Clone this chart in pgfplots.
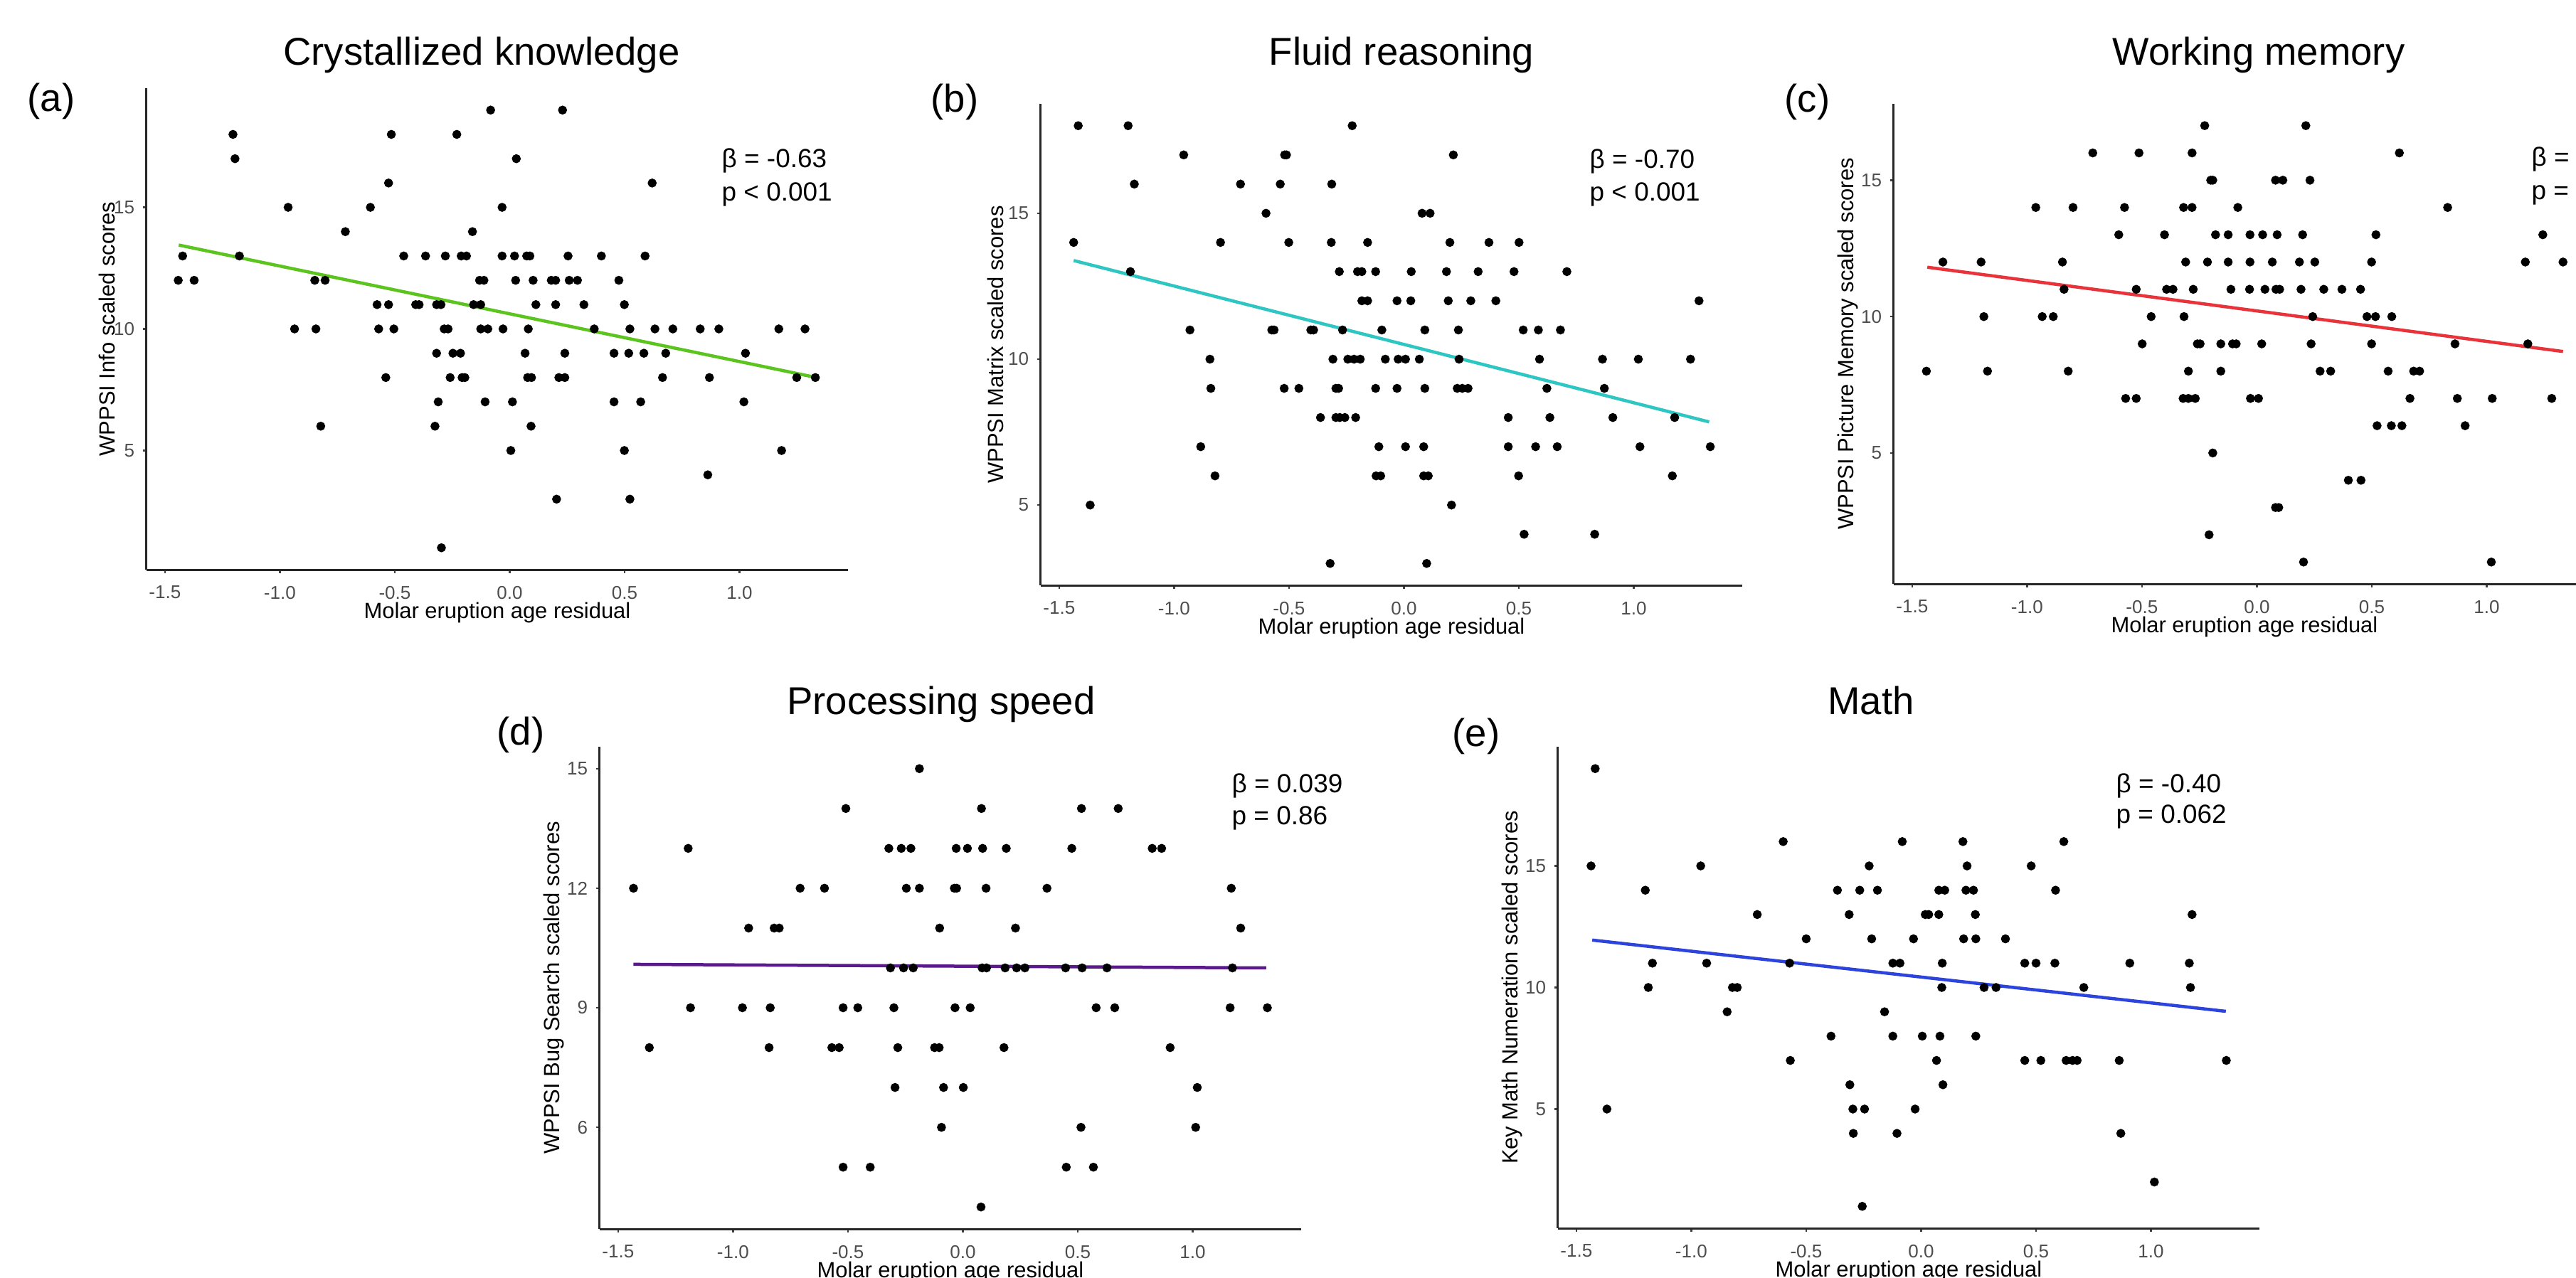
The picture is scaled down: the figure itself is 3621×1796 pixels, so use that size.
\documentclass[border=0pt]{standalone}
\usepackage{pgfplots}
\pgfplotsset{compat=1.18}
\usepackage{fontspec}
\setmainfont{Liberation Sans}

\definecolor{ticktext}{HTML}{4D4D4D}
\definecolor{fitA}{HTML}{5CC41E}
\definecolor{fitB}{HTML}{2EC6C2}
\definecolor{fitC}{HTML}{E8333B}
\definecolor{fitD}{HTML}{5A1A8C}
\definecolor{fitE}{HTML}{2D44DC}

\pgfplotsset{
  panel/.style={
    scale only axis, width=98.6mm,
    xmin=-1.58, xmax=1.472,
    axis lines=left, axis line style={-, black!85, line width=0.3mm},
    tick align=outside, major tick length=0.45mm,
    tick style={black!75, line width=0.25mm},
    xtick={-1.5,-1,-0.5,0,0.5,1}, xticklabels={-1.5,-1.0,-0.5,0.0,0.5,1.0},
    ticklabel style={font=\fontsize{7.4}{8.5}\selectfont, text=ticktext},
    xticklabel style={yshift=-0.6mm},
    xlabel={Molar eruption age residual},
    label style={font=\fontsize{8.8}{10}\selectfont},
    xlabel style={at={([yshift=-6.1mm]axis description cs:0.5,0)}, anchor=center},
    ylabel style={at={([xshift=-6.4mm]axis description cs:0,0.5)}, anchor=center},
  },
  pts/.style={only marks, mark=*, mark size=0.56mm, black},
  fit/.style={line width=0.45mm, no marks},
}

\newcommand{\ttl}{\fontsize{15.5}{18}\selectfont}
\newcommand{\stat}{\fontsize{10.5}{12}\selectfont}

\begin{document}
\begin{tikzpicture}[x=0.1mm, y=0.1mm]
\useasboundingbox (0,0) rectangle (3621,1796);
\clip (0,0) rectangle (3621,1796);

% (a) Crystallized knowledge
\begin{axis}[panel, at={(20.6mm,99.5mm)}, anchor=south west, height=67.7mm,
  ymin=0.1, ymax=19.9, ytick={5,10,15}, yticklabels={5,10,15},
  ylabel={WPPSI Info scaled scores},
  ylabel style={at={([xshift=-5.6mm]axis description cs:0,0.5)}}]
\addplot[pts] coordinates {
(-0.083,19) (0.230,19)
(-1.204,18) (-0.515,18) (-0.230,18)
(-1.195,17) (0.029,17)
(-0.527,16) (0.620,16)
(-0.964,15) (-0.606,15) (-0.033,15)
(-0.715,14) (-0.162,14)
(-1.423,13) (-1.176,13) (-0.461,13) (-0.366,13) (-0.280,13) (-0.211,13) (-0.188,13) (-0.033,13) (0.021,13) (0.074,13) (0.088,13) (0.254,13) (0.399,13) (0.589,13)
(-1.442,12) (-1.373,12) (-0.848,12) (-0.803,12) (-0.131,12) (-0.112,12) (0.026,12) (0.102,12) (0.181,12) (0.200,12) (0.259,12) (0.295,12) (0.475,12)
(-0.577,11) (-0.527,11) (-0.409,11) (-0.394,11) (-0.318,11) (-0.299,11) (-0.157,11) (-0.126,11) (0.114,11) (0.200,11) (0.323,11) (0.499,11)
(-0.936,10) (-0.843,10) (-0.570,10) (-0.504,10) (-0.285,10) (-0.268,10) (-0.126,10) (-0.095,10) (-0.029,10) (0.081,10) (0.368,10) (0.523,10) (0.632,10) (0.710,10) (0.829,10) (0.910,10) (1.171,10) (1.285,10)
(-0.318,9) (-0.247,9) (-0.214,9) (0.067,9) (0.240,9) (0.454,9) (0.518,9) (0.584,9) (0.679,9) (1.026,9)
(-0.539,8) (-0.259,8) (-0.207,8) (-0.195,8) (0.078,8) (0.095,8) (0.214,8) (0.240,8) (0.665,8) (0.869,8) (1.249,8) (1.330,8)
(-0.311,7) (-0.107,7) (0.012,7) (0.454,7) (0.570,7) (1.019,7)
(-0.822,6) (-0.325,6) (0.093,6)
(0.005,5) (0.499,5) (1.183,5)
(0.862,4)
(0.204,3) (0.523,3)
(-0.297,1)
};
\addplot[fit, fitA] coordinates {(-1.44,13.45) (1.33,8.01)};
\end{axis}

% (b) Fluid reasoning
\begin{axis}[panel, at={(146.3mm,97.3mm)}, anchor=south west, height=67.7mm,
  ymin=2.25, ymax=18.75, ytick={5,10,15}, yticklabels={5,10,15},
  ylabel={WPPSI Matrix scaled scores}]
\addplot[pts] coordinates {
(-1.417,18) (-1.200,18) (-0.225,18)
(-0.958,17) (-0.519,17) (-0.511,17) (0.215,17)
(-1.173,16) (-0.711,16) (-0.538,16) (-0.314,16)
(-0.600,15) (0.079,15) (0.114,15)
(-1.437,14) (-0.798,14) (-0.501,14) (-0.316,14) (-0.158,14) (0.200,14) (0.370,14) (0.501,14)
(-1.190,13) (-0.281,13) (-0.202,13) (-0.183,13) (-0.123,13) (0.032,13) (0.185,13) (0.323,13) (0.479,13) (0.709,13)
(-0.183,12) (-0.158,12) (-0.030,12) (0.030,12) (0.193,12) (0.291,12) (0.400,12) (1.284,12)
(-0.931,11) (-0.575,11) (-0.565,11) (-0.405,11) (-0.393,11) (-0.267,11) (-0.096,11) (0.091,11) (0.237,11) (0.519,11) (0.585,11) (0.681,11)
(-0.844,10) (-0.309,10) (-0.244,10) (-0.217,10) (-0.190,10) (-0.081,10) (-0.025,10) (0.007,10) (0.067,10) (0.240,10) (0.590,10) (0.864,10) (1.020,10) (1.247,10)
(-0.840,9) (-0.521,9) (-0.457,9) (-0.296,9) (-0.284,9) (-0.123,9) (-0.030,9) (0.091,9) (0.232,9) (0.254,9) (0.279,9) (0.622,9) (0.872,9)
(-0.363,8) (-0.296,8) (-0.279,8) (-0.257,8) (-0.210,8) (0.454,8) (0.635,8) (0.909,8) (1.178,8)
(-0.884,7) (-0.109,7) (0.007,7) (0.086,7) (0.454,7) (0.573,7) (0.667,7) (1.027,7) (1.333,7)
(-0.822,6) (-0.121,6) (-0.101,6) (0.086,6) (0.106,6) (0.499,6) (1.168,6)
(-1.365,5) (0.207,5)
(0.523,4) (0.830,4)
(-0.321,3) (0.099,3)
};
\addplot[fit, fitB] coordinates {(-1.437,13.38) (1.328,7.85)};
\end{axis}

% (c) Working memory
\begin{axis}[panel, at={(266.2mm,97.5mm)}, anchor=south west, height=67.5mm,
  ymin=0.2, ymax=17.8, ytick={5,10,15}, yticklabels={5,10,15},
  ylabel={WPPSI Picture Memory scaled scores}]
\addplot[pts] coordinates {
(-0.227,17) (0.213,17)
(-0.714,16) (-0.513,16) (-0.282,16) (0.620,16)
(-0.201,15) (-0.192,15) (0.081,15) (0.113,15) (0.231,15)
(-0.962,14) (-0.800,14) (-0.576,14) (-0.319,14) (-0.282,14) (-0.083,14) (0.830,14)
(-0.601,13) (-0.402,13) (-0.180,13) (-0.125,13) (-0.030,13) (0.025,13) (0.088,13) (0.199,13) (0.518,13) (1.244,13)
(-1.366,12) (-1.200,12) (-0.846,12) (-0.310,12) (-0.215,12) (-0.125,12) (-0.030,12) (0.067,12) (0.185,12) (0.252,12) (0.499,12) (1.168,12) (1.332,12)
(-0.839,11) (-0.525,11) (-0.393,11) (-0.365,11) (-0.277,11) (-0.113,11) (-0.032,11) (0.035,11) (0.083,11) (0.099,11) (0.192,11) (0.291,11) (0.370,11) (0.451,11)
(-1.188,10) (-0.934,10) (-0.886,10) (-0.460,10) (-0.317,10) (0.243,10) (0.479,10) (0.516,10) (0.587,10)
(-0.499,9) (-0.259,9) (-0.247,9) (-0.157,9) (-0.106,9) (-0.090,9) (0.021,9) (0.236,9) (0.499,9) (0.862,9) (1.179,9)
(-1.438,8) (-1.172,8) (-0.821,8) (-0.298,8) (-0.157,8) (0.275,8) (0.321,8) (0.571,8) (0.682,8) (0.708,8)
(-0.571,7) (-0.525,7) (-0.321,7) (-0.298,7) (-0.268,7) (-0.028,7) (0.007,7) (0.666,7) (0.872,7) (1.024,7) (1.283,7)
(0.523,6) (0.585,6) (0.631,6) (0.906,6)
(-0.192,5)
(0.398,4) (0.453,4)
(0.081,3) (0.095,3)
(-0.208,2)
(0.203,1) (1.020,1)
};
\addplot[fit, fitC] coordinates {(-1.434,11.81) (1.332,8.72)};
\end{axis}

% (d) Processing speed
\begin{axis}[panel, at={(84.3mm,6.8mm)}, anchor=south west, height=67.8mm,
  ymin=3.45, ymax=15.55, ytick={6,9,12,15}, yticklabels={6,9,12,15},
  ylabel={WPPSI Bug Search scaled scores}]
\addplot[pts] coordinates {
(-0.189,15)
(-0.509,14) (0.081,14) (0.516,14) (0.676,14)
(-1.195,13) (-0.322,13) (-0.268,13) (-0.226,13) (-0.029,13) (0.020,13) (0.086,13) (0.189,13) (0.474,13) (0.824,13) (0.865,13)
(-1.433,12) (-0.708,12) (-0.602,12) (-0.246,12) (-0.189,12) (-0.037,12) (-0.027,12) (0.101,12) (0.366,12) (1.168,12)
(-0.932,11) (-0.821,11) (-0.799,11) (-0.101,11) (0.229,11) (1.209,11)
(-0.315,10) (-0.258,10) (-0.216,10) (0.084,10) (0.103,10) (0.184,10) (0.234,10) (0.270,10) (0.447,10) (0.519,10) (0.627,10) (1.173,10)
(-1.185,9) (-0.959,9) (-0.838,9) (-0.521,9) (-0.457,9) (-0.300,9) (-0.034,9) (0.032,9) (0.580,9) (0.661,9) (1.163,9) (1.325,9)
(-1.364,8) (-0.843,8) (-0.570,8) (-0.538,8) (-0.283,8) (-0.123,8) (-0.103,8) (0.179,8) (0.902,8)
(-0.295,7) (-0.084,7) (0.002,7) (1.020,7)
(-0.093,6) (0.514,6) (1.013,6)
(-0.521,5) (-0.403,5) (0.450,5) (0.568,5)
(0.079,4)
};
\addplot[fit, fitD] coordinates {(-1.433,10.09) (1.32,10.0)};
\end{axis}

% (e) Math
\begin{axis}[panel, at={(219.0mm,6.9mm)}, anchor=south west, height=67.7mm,
  ymin=0.1, ymax=19.9, ytick={5,10,15}, yticklabels={5,10,15},
  ylabel={Key Math Numeration scaled scores}]
\addplot[pts] coordinates {
(-1.418,19)
(-0.600,16) (-0.082,16) (0.182,16) (0.621,16)
(-1.436,15) (-0.959,15) (-0.226,15) (0.200,15) (0.479,15)
(-1.200,14) (-0.364,14) (-0.267,14) (-0.190,14) (0.077,14) (0.103,14) (0.195,14) (0.228,14) (0.585,14)
(-0.713,13) (-0.313,13) (0.018,13) (0.033,13) (0.077,13) (0.236,13) (1.179,13)
(-0.500,12) (-0.215,12) (-0.033,12) (0.185,12) (0.238,12) (0.367,12)
(-1.169,11) (-0.933,11) (-0.572,11) (-0.123,11) (-0.092,11) (0.092,11) (0.451,11) (0.500,11) (0.582,11) (0.908,11) (1.167,11)
(-1.187,10) (-0.821,10) (-0.800,10) (0.090,10) (0.274,10) (0.326,10) (0.708,10) (1.172,10)
(-0.844,9) (-0.159,9)
(-0.392,8) (-0.123,8) (0.005,8) (0.082,8) (0.238,8)
(-0.569,7) (0.067,7) (0.451,7) (0.521,7) (0.631,7) (0.659,7) (0.679,7) (0.862,7) (1.328,7)
(-0.310,6) (0.095,6)
(-1.367,5) (-0.297,5) (-0.246,5) (-0.026,5)
(-0.295,4) (-0.105,4) (0.869,4)
(1.015,2)
(-0.256,1)
};
\addplot[fit, fitE] coordinates {(-1.431,11.95) (1.326,9.02)};
\end{axis}

% titles
\node[anchor=base, font=\ttl] at (677,1704) {Crystallized knowledge};
\node[anchor=base, font=\ttl] at (1970,1704) {Fluid reasoning};
\node[anchor=base, font=\ttl] at (3175,1704) {Working memory};
\node[anchor=base, font=\ttl] at (1323,791) {Processing speed};
\node[anchor=base, font=\ttl] at (2630,791) {Math};
% panel letters
\node[anchor=base west, font=\ttl, inner sep=0pt] at (38,1639) {(a)};
\node[anchor=base west, font=\ttl, inner sep=0pt] at (1308,1638) {(b)};
\node[anchor=base west, font=\ttl, inner sep=0pt] at (2508,1638) {(c)};
\node[anchor=base west, font=\ttl, inner sep=0pt] at (698,748) {(d)};
\node[anchor=base west, font=\ttl, inner sep=0pt] at (2041,746) {(e)};
% statistics
\node[anchor=base west, font=\stat, inner sep=0pt] at (1014,1560) {β = -0.63};
\node[anchor=base west, font=\stat, inner sep=0pt] at (1014,1513) {p < 0.001};
\node[anchor=base west, font=\stat, inner sep=0pt] at (2234,1559) {β = -0.70};
\node[anchor=base west, font=\stat, inner sep=0pt] at (2234,1513) {p < 0.001};
\node[anchor=base west, font=\stat, inner sep=0pt] at (3558,1562) {β =};
\node[anchor=base west, font=\stat, inner sep=0pt] at (3558,1515) {p =};
\node[anchor=base west, font=\stat, inner sep=0pt] at (1731,681) {β = 0.039};
\node[anchor=base west, font=\stat, inner sep=0pt] at (1731,636) {p = 0.86};
\node[anchor=base west, font=\stat, inner sep=0pt] at (2974,681) {β = -0.40};
\node[anchor=base west, font=\stat, inner sep=0pt] at (2974,638) {p = 0.062};
\end{tikzpicture}
\end{document}
